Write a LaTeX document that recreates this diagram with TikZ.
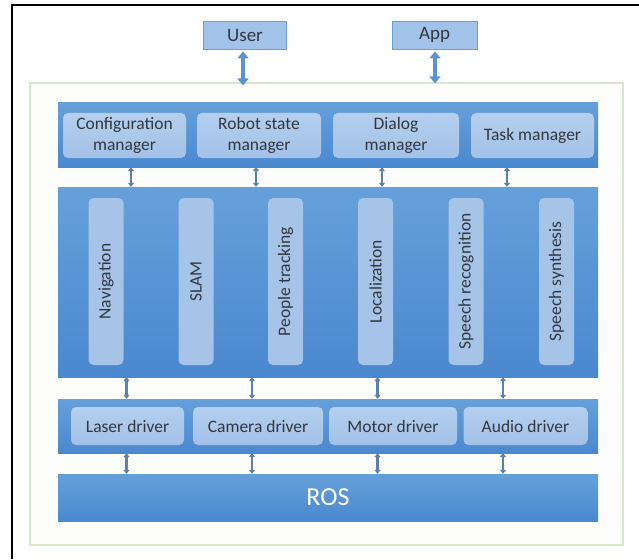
\documentclass[tikz,border=0pt]{standalone}
\usepackage{fontspec}
\setmainfont{Carlito}
\usetikzlibrary{arrows.meta,calc}
\definecolor{bandtop}{HTML}{66A0DB}
\definecolor{bandbot}{HTML}{4A88CF}
\definecolor{boxtop}{HTML}{B4CFEE}
\definecolor{boxbot}{HTML}{A3C1E7}
\definecolor{txt}{HTML}{33373E}
\definecolor{arr}{HTML}{5C80AC}
\definecolor{bigarr}{HTML}{5A93D1}
\definecolor{outerfill}{HTML}{FDFEFB}
\definecolor{outerline}{HTML}{D6E7CA}
\definecolor{extbox}{HTML}{A2C3E9}
\definecolor{extline}{HTML}{6C9FD6}
\tikzset{
  band/.style={top color=bandtop, bottom color=bandbot, draw=none, inner sep=0pt},
  inbox/.style={rounded corners=5pt, top color=boxtop, bottom color=boxbot, draw=none,
     text=txt, font=\fontsize{17.5}{21}\selectfont, align=center, inner sep=0pt},
  vbox/.style={rounded corners=5pt, fill=boxbot!85!boxtop, draw=none,
     text=txt, font=\fontsize{17.5}{21}\selectfont, inner sep=0pt, rotate=90,
     minimum width=167pt, minimum height=35pt},
  extnode/.style={fill=extbox, draw=extline, line width=0.8pt, text=txt,
     font=\fontsize{19}{22}\selectfont, inner sep=0pt, minimum height=28pt},
  darr/.style={draw=arr, line width=2.4pt,
     {Triangle[width=6pt,length=4pt]}-{Triangle[width=6pt,length=4pt]}},
  bigdarr/.style={draw=bigarr, line width=4.5pt,
     {Triangle[width=11pt,length=7pt]}-{Triangle[width=11pt,length=7pt]}},
}
\begin{document}
\begin{tikzpicture}[x=1pt,y=-1pt]
\useasboundingbox (0,0) rectangle (639,559);
\fill[white] (0,0) rectangle (639,559);
% frame lines
\draw[line width=2.5pt] (10.8,5) -- (639,5);
\draw[line width=2.5pt] (12,3.8) -- (12,559);
% outer container
\node[draw=outerline, fill=outerfill, line width=1.2pt, minimum width=593pt, minimum height=462pt, inner sep=0pt] (outer) at (326.5,314) {};
% external nodes
\node[extnode, minimum width=83pt] (user) at (245,35) {User};
\node[extnode, minimum width=85pt] (app) at (434.5,35) {App};
% bands
\node[band, minimum width=540pt, minimum height=64pt] (top) at (328,135) {};
\node[band, minimum width=540pt, minimum height=190pt] (mid) at (328,282) {};
\node[band, minimum width=540pt, minimum height=54pt] (drv) at (328,426) {};
\node[band, minimum width=540pt, minimum height=47pt, text=white, font=\fontsize{26}{30}\selectfont] (ros) at (328,497.5) {ROS};
% managers
\node[inbox, minimum width=123pt, minimum height=45pt] (cfg) at (124.5,135.5) {Configuration\\manager};
\node[inbox, minimum width=124pt, minimum height=45pt] (rsm) at (259,135.5) {Robot state\\manager};
\node[inbox, minimum width=126pt, minimum height=45pt] (dlg) at (396,135.5) {Dialog\\manager};
\node[inbox, minimum width=123pt, minimum height=45pt] (tsk) at (532.5,135.5) {Task manager};
% modules
\node[vbox] (nav) at (106,281.5) {Navigation};
\node[vbox] (slam) at (196,281.5) {SLAM};
\node[vbox] (ppl) at (285.5,281.5) {People tracking};
\node[vbox] (loc) at (375.5,281.5) {Localization};
\node[vbox] (spr) at (466,281.5) {Speech recognition};
\node[vbox] (sps) at (556.5,281.5) {Speech synthesis};
% drivers
\node[inbox, minimum width=113pt, minimum height=38pt] (las) at (127.5,426) {Laser driver};
\node[inbox, minimum width=130pt, minimum height=38pt] (cam) at (258,426) {Camera driver};
\node[inbox, minimum width=128pt, minimum height=38pt] (mot) at (393,426) {Motor driver};
\node[inbox, minimum width=124pt, minimum height=38pt] (aud) at (525.5,426) {Audio driver};
% arrow x positions
\coordinate (ux) at (243,0);
\coordinate (ax) at (435,0);
\coordinate (a1) at (131,0);
\coordinate (a2) at (256,0);
\coordinate (a3) at (382,0);
\coordinate (a4) at (507,0);
\coordinate (b1) at (126.5,0);
\coordinate (b2) at (252,0);
\coordinate (b3) at (377.5,0);
\coordinate (b4) at (503,0);
% external arrows
\draw[bigdarr] ($(user.south -| ux)+(0,2)$) -- ($(outer.north -| ux)+(0,3)$);
\draw[bigdarr] ($(app.south -| ax)+(0,2)$) -- ($(outer.north -| ax)+(0,1)$);
% band arrows
\foreach \c in {a1,a2,a3,a4}{
  \draw[darr] (top.south -| \c) -- (mid.north -| \c);
}
\foreach \c in {b1,b2,b3,b4}{
  \draw[darr] (mid.south -| \c) -- (drv.north -| \c);
  \draw[darr] (drv.south -| \c) -- (ros.north -| \c);
}
\end{tikzpicture}
\end{document}
